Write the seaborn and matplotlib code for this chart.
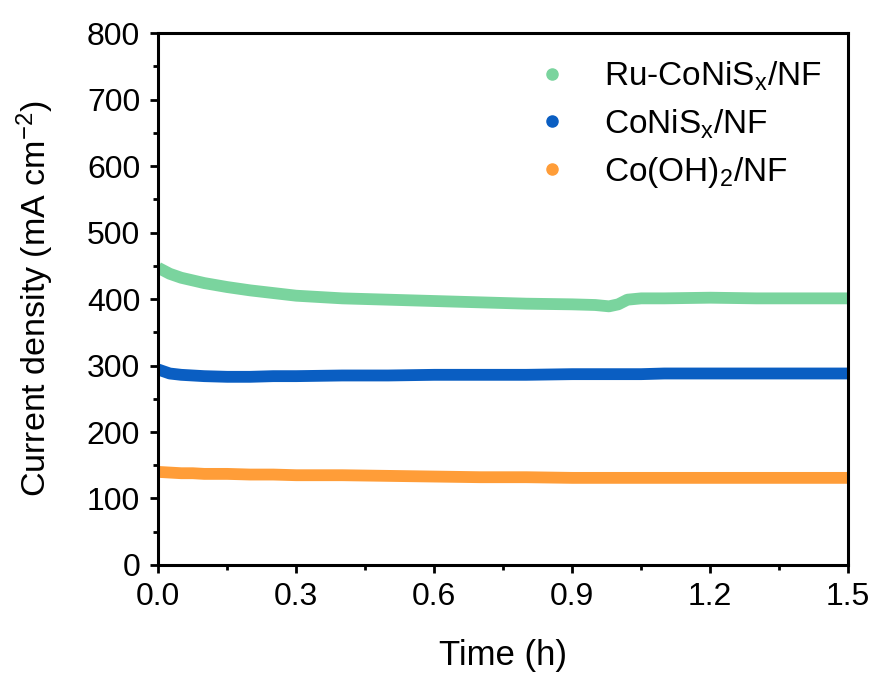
import matplotlib
matplotlib.use("Agg")
import matplotlib.pyplot as plt
import seaborn as sns
import pandas as pd
from matplotlib.lines import Line2D
from matplotlib.ticker import MultipleLocator

time_h = [0, 0.025, 0.05, 0.075, 0.1, 0.15, 0.2, 0.25, 0.3, 0.4, 0.5, 0.6, 0.7, 0.8, 0.9,
          0.95, 0.98, 1.0, 1.02, 1.05, 1.1, 1.2, 1.3, 1.4, 1.5]
ru_conis = [447, 438, 432, 428, 424, 418, 413, 409, 405, 401, 399, 397, 395, 393, 392,
            391, 389, 392, 399, 401, 401, 402, 401, 401, 401]
conis = [294, 288, 286, 285, 284, 283, 283, 284, 284, 285, 285, 286, 286, 286, 287,
         287, 287, 287, 287, 287, 288, 288, 288, 288, 288]
cooh = [140, 139, 138, 138, 137, 137, 136, 136, 135, 135, 134, 133, 132, 132, 131,
        131, 131, 131, 131, 131, 131, 131, 131, 131, 131]
labels = ["Ru-CoNiS$_\\mathregular{x}$/NF", "CoNiS$_\\mathregular{x}$/NF", "Co(OH)$_\\mathregular{2}$/NF"]
colors = ["#7AD49E", "#0A5EC2", "#FF9D38"]
x_ticks = [0.0, 0.3, 0.6, 0.9, 1.2, 1.5]
y_ticks = [0, 100, 200, 300, 400, 500, 600, 700, 800]

sns.set_style("ticks")
plt.rcParams["font.family"] = ["Liberation Sans", "DejaVu Sans"]
plt.rcParams["mathtext.fontset"] = "custom"
plt.rcParams["mathtext.rm"] = "Liberation Sans"
plt.rcParams["mathtext.default"] = "regular"
for k in ["text.color", "axes.labelcolor", "xtick.color", "ytick.color", "axes.edgecolor"]:
    plt.rcParams[k] = "black"

fig = plt.figure(figsize=(8.79, 6.75), dpi=100)
ax = fig.add_axes([0.18, 0.163, 0.785, 0.788])

series = [ru_conis, conis, cooh]
for vals, lab, col in zip(series, labels, colors):
    df = pd.DataFrame({"t": time_h, "j": vals})
    sns.lineplot(data=df, x="t", y="j", ax=ax, color=col, linewidth=8.5,
                 solid_capstyle="butt", legend=False)

ax.set_xlim(0, 1.5)
ax.set_ylim(0, 800)
ax.set_xticks(x_ticks)
ax.set_xticklabels([f"{v:.1f}" for v in x_ticks])
ax.set_yticks(y_ticks)
ax.xaxis.set_minor_locator(MultipleLocator(0.15))
ax.yaxis.set_minor_locator(MultipleLocator(50))
ax.tick_params(which="major", direction="out", length=6, width=2, labelsize=23)
ax.tick_params(axis="y", which="major", pad=7)
ax.tick_params(axis="x", which="major", pad=6)
ax.tick_params(which="minor", direction="out", length=3.5, width=2)
for s in ax.spines.values():
    s.set_linewidth(2.2)
    s.set_visible(True)
    s.set_color("black")

ax.set_xlabel("Time (h)", fontsize=25, labelpad=20)
ax.set_ylabel("Current density (mA cm$^{-2}$)", fontsize=24.5, labelpad=22)

handles = [Line2D([], [], marker="o", linestyle="none", markersize=8, color=c) for c in colors]
ax.legend(handles, labels, loc="upper right", frameon=False, fontsize=24,
          handletextpad=0.55, labelspacing=0.42, borderaxespad=0.4, bbox_to_anchor=(1.0, 1.0))

fig.savefig("out.png", dpi=100)
